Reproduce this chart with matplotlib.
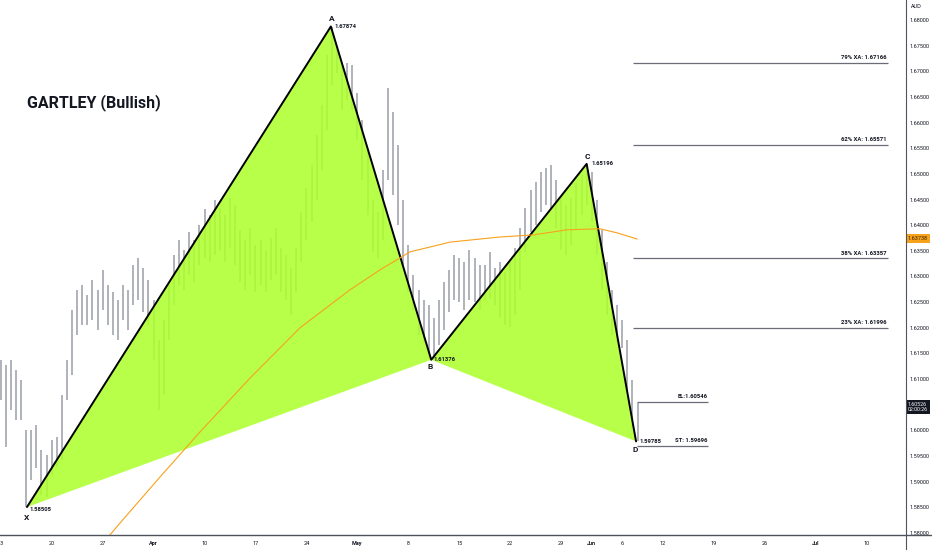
import matplotlib
matplotlib.use('Agg')
import matplotlib.pyplot as plt
from matplotlib.lines import Line2D
import numpy as np

plt.rcParams['font.family'] = ['Roboto', 'DejaVu Sans']

# ---------------- data ----------------
# price bars, half-day steps, x = trading-day index (13 Mar 2023 = 0)
highs = [1.6137, 1.6127, 1.6137, 1.6118, 1.6098, 1.6001, 1.6001, 1.6011, 1.5962, 1.5952,
         1.5981, 1.5987, 1.6069, 1.6137, 1.6235, 1.6274, 1.6283, 1.6264, 1.6293, 1.6274,
         1.6313, 1.6283, 1.6270, 1.6254, 1.6283, 1.6274, 1.6322, 1.6336, 1.6317, 1.6293,
         1.6254, 1.6176, 1.6215, 1.6283, 1.6342, 1.6371, 1.6352, 1.6387, 1.6371, 1.6400,
         1.6431, 1.6420, 1.6449, 1.6434, 1.6420, 1.6453, 1.6439, 1.6391, 1.6371, 1.6395,
         1.6361, 1.6371, 1.6352, 1.6375, 1.6395, 1.6356, 1.6342, 1.6317, 1.6356, 1.6426,
         1.6473, 1.6517, 1.6576, 1.6634, 1.6732, 1.6787, 1.6745, 1.6716, 1.6716, 1.6712,
         1.6658, 1.6605, 1.6547, 1.6449, 1.6426, 1.6508, 1.6668, 1.6621, 1.6556, 1.6449,
         1.6361, 1.6303, 1.6274, 1.6254, 1.6244, 1.6219, 1.6254, 1.6289, 1.6313, 1.6342,
         1.6336, 1.6328, 1.6352, 1.6336, 1.6322, 1.6322, 1.6348, 1.6317, 1.6328, 1.6309,
         1.6328, 1.6356, 1.6395, 1.6434, 1.6469, 1.6484, 1.6504, 1.6512, 1.6517, 1.6488,
         1.6453, 1.6439, 1.6453, 1.6482, 1.6498, 1.6520, 1.6504, 1.6449, 1.6391, 1.6328,
         1.6274, 1.6244, 1.6215, 1.6176, 1.6098, 1.6053]
lows = [1.6059, 1.5968, 1.6040, 1.6020, 1.6020, 1.5851, 1.5903, 1.5927, 1.5874, 1.5870,
        1.5913, 1.5929, 1.5942, 1.6059, 1.6108, 1.6186, 1.6205, 1.6205, 1.6215, 1.6196,
        1.6235, 1.6205, 1.6186, 1.6176, 1.6215, 1.6196, 1.6244, 1.6254, 1.6231, 1.6205,
        1.6137, 1.6040, 1.6069, 1.6176, 1.6244, 1.6283, 1.6274, 1.6303, 1.6289, 1.6322,
        1.6336, 1.6328, 1.6342, 1.6352, 1.6328, 1.6356, 1.6322, 1.6289, 1.6274, 1.6303,
        1.6270, 1.6283, 1.6270, 1.6293, 1.6303, 1.6270, 1.6254, 1.6225, 1.6270, 1.6328,
        1.6371, 1.6406, 1.6449, 1.6508, 1.6586, 1.6673, 1.6697, 1.6625, 1.6644, 1.6625,
        1.6566, 1.6488, 1.6420, 1.6348, 1.6336, 1.6371, 1.6488, 1.6459, 1.6400, 1.6322,
        1.6270, 1.6235, 1.6186, 1.6172, 1.6141, 1.6138, 1.6166, 1.6196, 1.6231, 1.6254,
        1.6250, 1.6235, 1.6254, 1.6250, 1.6235, 1.6254, 1.6258, 1.6244, 1.6219, 1.6206,
        1.6202, 1.6225, 1.6274, 1.6348, 1.6387, 1.6400, 1.6426, 1.6439, 1.6431, 1.6395,
        1.6352, 1.6342, 1.6361, 1.6391, 1.6420, 1.6439, 1.6406, 1.6342, 1.6274, 1.6225,
        1.6186, 1.6172, 1.6161, 1.6079, 1.6001, 1.5979]
bar_step = 0.5

# moving average (orange)
ma_t = [10.24, 12.0, 15.63, 19.56, 24.47, 29.37, 34.28, 37.23, 40.17, 44.1, 49.0, 52.24, 55.57, 58.82, 60.5, 62.45]
ma_v = [1.5785, 1.5826, 1.5909, 1.5997, 1.6102, 1.6200, 1.6274, 1.6313, 1.6348, 1.6367, 1.6377, 1.6381, 1.6391, 1.6393, 1.6385, 1.6373]

# Gartley points
pat_names = ['X', 'A', 'B', 'C', 'D']
pat_t = [2.58, 32.4, 42.25, 57.5, 62.35]
pat_p = [1.58505, 1.67874, 1.61376, 1.65196, 1.59785]

# Fibonacci retracement levels of XA
fib_levels = [1.67166, 1.65571, 1.63357, 1.61996]
fib_labels = ['79% XA: 1.67166', '62% XA: 1.65571', '38% XA: 1.63357', '23% XA: 1.61996']

entry_level = 1.60546
stop_level = 1.59696
last_price = 1.60526
ma_last = 1.63738

tick_t = [0, 5, 10, 15, 20, 25, 30, 35, 40, 45, 50, 55, 58, 61, 65, 70, 75, 80, 85]
tick_labels = ['13', '20', '27', 'Apr', '10', '17', '24', 'May', '8', '15', '22', '29',
               'Jun', '6', '12', '19', '26', 'Jul', '10']
month_labels = ['Apr', 'May', 'Jun', 'Jul']

# ---------------- figure ----------------
W, H = 932, 550
fig = plt.figure(figsize=(W / 100, H / 100), dpi=100)
ax = fig.add_axes([0, 15 / H, 906 / W, 535 / H])
ax.set_xlim(-0.069, 88.84)
ax.set_ylim(1.5796, 1.6839)
for s in ax.spines.values():
    s.set_visible(False)

txt = '#131722'

bar_t = np.arange(len(highs)) * bar_step
ax.vlines(bar_t, lows, highs, color='#a3a6ae', lw=1.2, zorder=2)

green = '#adff2f'
ax.fill([pat_t[0], pat_t[1], pat_t[2]], [pat_p[0], pat_p[1], pat_p[2]],
        color=green, alpha=0.88, lw=0, zorder=3)
ax.fill([pat_t[2], pat_t[3], pat_t[4]], [pat_p[2], pat_p[3], pat_p[4]],
        color=green, alpha=0.88, lw=0, zorder=3)
ax.plot(pat_t, pat_p, color='black', lw=1.4, zorder=4, solid_capstyle='round')

ax.plot(ma_t, ma_v, color='#f7a21b', lw=0.8, zorder=5)

# point labels
letter_off = {'X': (0, -10), 'A': (1, 8), 'B': (-1, -7), 'C': (1, 7), 'D': (-1, -8)}
value_off = {'X': (2, -2), 'A': (4, 0), 'B': (2, 0), 'C': (5, 0), 'D': (3, 0)}
for n, t, p in zip(pat_names, pat_t, pat_p):
    ax.annotate(n, (t, p), xytext=letter_off[n], textcoords='offset pixels',
                ha='center', va='center', fontsize=6, fontweight='bold', color=txt, zorder=6)
    ax.annotate(f'{p:.5f}', (t, p), xytext=value_off[n], textcoords='offset pixels',
                ha='left', va='center', fontsize=4.2, fontweight='bold', color=txt, zorder=6)

# fib lines
fib_start, fib_end = 62.05, 87.07
ax.hlines(fib_levels, fib_start, fib_end, color='#6a6d78', lw=0.9, zorder=4)
for lv, lb in zip(fib_levels, fib_labels):
    ax.annotate(lb, (fib_end, lv), xytext=(-1, 5), textcoords='offset pixels',
                ha='right', va='center', fontsize=4.2, fontweight='bold', color=txt)

# entry / stop
el_start, el_end = 62.45, 69.41
ax.hlines([entry_level, stop_level], el_start, el_end, color='#6a6d78', lw=0.9, zorder=4)
ax.annotate(f'EL:{entry_level:.5f}', (el_end, entry_level), xytext=(0, 5.5),
            textcoords='offset pixels', ha='right', va='center', fontsize=4.2,
            fontweight='bold', color=txt)
ax.annotate(f'ST: {stop_level:.5f}', (el_end, stop_level), xytext=(-1, 5),
            textcoords='offset pixels', ha='right', va='center', fontsize=4.2,
            fontweight='bold', color=txt)

# title
fig.text(27 / W, 1 - 103 / H, 'GARTLEY (Bullish)', fontsize=11.5, fontweight='bold',
         color=txt, ha='left', va='center')

# axes ticks (1.60500 is hidden behind the last-price tag)
yt = np.arange(1.58, 1.68001, 0.005)
ax.set_yticks(yt)
ax.set_yticklabels(['' if abs(v - 1.605) < 1e-6 else f'{v:.5f}' for v in yt])
ax.yaxis.set_ticks_position('right')
ax.tick_params(axis='y', length=0, pad=2.5, labelsize=4, labelcolor=txt)
ax.set_xticks(tick_t)
ax.set_xticklabels(tick_labels)
ax.tick_params(axis='x', length=0, pad=4, labelsize=4, labelcolor=txt)
for lab in ax.get_xticklabels():
    if lab.get_text() in month_labels:
        lab.set_fontweight('bold')

# frame lines
fig.add_artist(Line2D([0, 1], [15 / H, 15 / H], color='#50535e', lw=1.0))
fig.add_artist(Line2D([906 / W, 906 / W], [0, 1], color='#50535e', lw=0.8))

# price tags on axis
ytr = ax.get_yaxis_transform()
ax.text(1.002, ma_last, f'{ma_last:.5f}', transform=ytr, ha='left', va='center',
        fontsize=4, color='#3b2600', clip_on=False,
        bbox=dict(facecolor='#f7a21b', edgecolor='none', pad=1.2))
ax.text(1.002, last_price + 0.0003, f'{last_price:.5f}\n02:00:26', transform=ytr,
        ha='left', va='top', fontsize=3.8, color='white', clip_on=False, linespacing=1.1,
        bbox=dict(facecolor='#131722', edgecolor='none', pad=1.2))
fig.text(911 / W, 1 - 6 / H, 'AUD', fontsize=4, color=txt, ha='left', va='center')

fig.savefig('out.png', dpi=100)
